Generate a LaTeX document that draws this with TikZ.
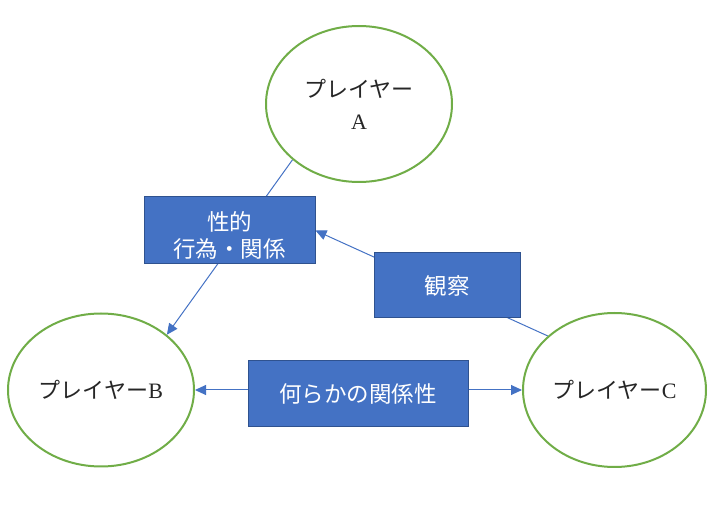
\documentclass[tikz,border=0pt]{standalone}
\usepackage{fontspec}
\setmainfont{Liberation Serif}
\newfontfamily\cjk{Noto Sans CJK JP}
\usetikzlibrary{shapes.geometric,arrows.meta,backgrounds}
\definecolor{boxblue}{HTML}{4472C4}
\definecolor{boxedge}{HTML}{2F528F}
\definecolor{ellgreen}{HTML}{70AD47}
\definecolor{txtgray}{HTML}{262626}
\begin{document}
\begin{tikzpicture}[x=1pt,y=-1pt,
  player/.style={ellipse, draw=ellgreen, line width=2pt, fill=white, inner sep=0pt,
    text=txtgray, font=\fontsize{22}{32}\selectfont, align=center},
  labelbox/.style={rectangle, draw=boxedge, line width=1pt, fill=boxblue, text=white,
    inner sep=0pt, font=\cjk\fontsize{22.5}{27}\selectfont, align=center},
  conn/.style={draw=boxblue, line width=1pt},
  arrowconn/.style={-{Triangle[length=11pt,width=10pt]}},
  bothconn/.style={{Triangle[length=11pt,width=10pt]}-{Triangle[length=11pt,width=10pt]}}]
\useasboundingbox (0,0) rectangle (713,529);
\node[player, minimum width=186pt, minimum height=156pt] (A) at (359,104) {{\cjk プレイヤー}\\A};
\node[player, minimum width=186pt, minimum height=153pt] (B) at (101,390) {{\cjk プレイヤー}B};
\node[player, minimum width=183pt, minimum height=154pt] (C) at (614.5,390) {{\cjk プレイヤー}C};
\node[labelbox, minimum width=171pt, minimum height=67pt] (S) at (229.5,230.5) {\rule{0pt}{28pt}性的\\行為・関係};
\node[labelbox, minimum width=146pt, minimum height=65pt] (O) at (447,285.5) {観察};
\node[labelbox, minimum width=220pt, minimum height=66pt] (R) at (358,394) {何らかの関係性};
\begin{scope}[on background layer]
\draw[conn, arrowconn] (A.220) -- (B.40);
\draw[conn, arrowconn] (C.141) -- (S.east);
\draw[conn, bothconn] (B.east) -- (C.west);
\end{scope}
\end{tikzpicture}
\end{document}
